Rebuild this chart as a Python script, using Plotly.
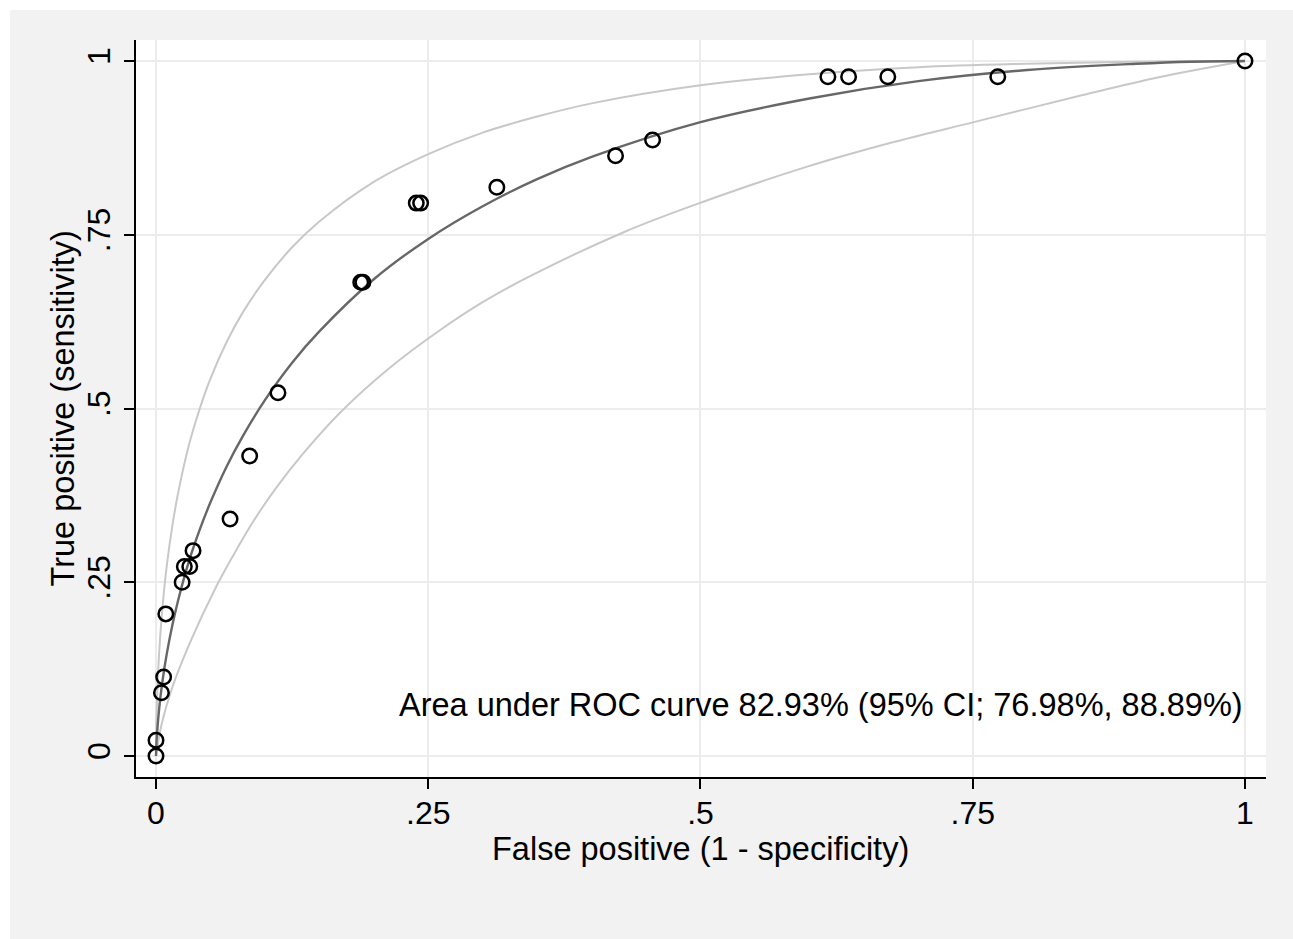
import plotly.graph_objects as go

# Observed operating points (false positive rate, true positive rate)
obs_fpr = [0.0, 0.0, 0.005, 0.007, 0.009, 0.024, 0.026, 0.031, 0.034, 0.068,
           0.086, 0.112, 0.188, 0.190, 0.239, 0.243, 0.313, 0.422, 0.456,
           0.617, 0.636, 0.672, 0.773, 1.0]
obs_tpr = [0.0, 0.0227, 0.0909, 0.1136, 0.2045, 0.25, 0.2727, 0.2727, 0.2955,
           0.3409, 0.4318, 0.5227, 0.6818, 0.6818, 0.7955, 0.7955, 0.8182,
           0.8636, 0.8864, 0.9773, 0.9773, 0.9773, 0.9773, 1.0]

# Fitted ROC curve and its upper confidence curve
curve_fpr = [0, 0.0005, 0.001, 0.002, 0.004, 0.007, 0.01, 0.015, 0.02, 0.03,
             0.04, 0.05, 0.065, 0.08, 0.1, 0.125, 0.15, 0.2, 0.25, 0.3, 0.35,
             0.4, 0.5, 0.6, 0.7, 0.8, 0.9, 0.95, 1]
fit_tpr = [0, 0.021, 0.033, 0.053, 0.084, 0.119, 0.148, 0.188, 0.222, 0.279,
           0.325, 0.365, 0.417, 0.461, 0.512, 0.566, 0.611, 0.686, 0.744, 0.791,
           0.830, 0.862, 0.912, 0.946, 0.971, 0.987, 0.996, 0.999, 1]
up_tpr = [0, 0.056, 0.083, 0.122, 0.175, 0.232, 0.275, 0.331, 0.376, 0.446,
          0.499, 0.543, 0.596, 0.639, 0.685, 0.732, 0.769, 0.826, 0.866, 0.897,
          0.920, 0.939, 0.965, 0.981, 0.991, 0.996, 0.999, 1.0, 1]

# Lower confidence curve
lo_fpr = [0, 0.0052, 0.0144, 0.0312, 0.0557, 0.07, 0.0891, 0.11, 0.135, 0.169,
          0.215, 0.261, 0.30, 0.343, 0.430, 0.500, 0.598, 0.674, 0.751, 0.851,
          0.922, 1]
lo_tpr = [0, 0.046, 0.096, 0.163, 0.245, 0.286, 0.337, 0.385, 0.435, 0.494,
          0.559, 0.613, 0.653, 0.690, 0.754, 0.796, 0.848, 0.882, 0.912, 0.951,
          0.977, 1]

tick_vals = [0, 0.25, 0.5, 0.75, 1]
tick_text = ["0", ".25", ".5", ".75", "1"]

x_title = "False positive (1 - specificity)"
y_title = "True positive (sensitivity)"
auc_text = "Area under ROC curve 82.93% (95% CI; 76.98%, 88.89%)"

FONT = "Liberation Sans, Arial, Helvetica, sans-serif"
PLOT_W, PLOT_H = 1130, 737
L, T = 136, 40

fig = go.Figure()

ci_line = dict(color="#c8c8c8", width=2, shape="spline", smoothing=1)
fig.add_trace(go.Scatter(x=curve_fpr, y=up_tpr, mode="lines", line=ci_line,
                         hoverinfo="skip", showlegend=False))
fig.add_trace(go.Scatter(x=lo_fpr, y=lo_tpr, mode="lines", line=ci_line,
                         hoverinfo="skip", showlegend=False))
fig.add_trace(go.Scatter(x=curve_fpr, y=fit_tpr, mode="lines",
                         line=dict(color="#676767", width=2.4, shape="spline", smoothing=1),
                         hoverinfo="skip", showlegend=False))
fig.add_trace(go.Scatter(x=obs_fpr, y=obs_tpr, mode="markers",
                         marker=dict(symbol="circle-open", size=14.5, color="black",
                                     line=dict(color="black", width=2.5)),
                         showlegend=False))

fig.add_annotation(x=1.0, y=0.073, xref="x", yref="y", text=auc_text,
                   showarrow=False, xanchor="right", yanchor="middle",
                   font=dict(family=FONT, size=32.5, color="black"))

# axis titles
fig.add_annotation(x=(700.5 - L) / PLOT_W, y=(T + PLOT_H - 849) / PLOT_H,
                   xref="paper", yref="paper", text=x_title, showarrow=False,
                   xanchor="center", yanchor="middle",
                   font=dict(family=FONT, size=32.5, color="black"))
fig.add_annotation(x=(62 - L) / PLOT_W, y=0.5, xref="paper", yref="paper",
                   text=y_title, showarrow=False, textangle=-90,
                   xanchor="center", yanchor="middle",
                   font=dict(family=FONT, size=32.5, color="black"))

# white outer border strips (top and left)
fig.add_shape(type="rect", xref="paper", yref="paper", x0=-0.2, x1=1.1,
              y0=1 + 30 / PLOT_H, y1=1.2, fillcolor="white", line_width=0, layer="below")
fig.add_shape(type="rect", xref="paper", yref="paper", x0=-0.2, x1=(10 - L) / PLOT_W,
              y0=-0.3, y1=1.2, fillcolor="white", line_width=0, layer="below")

axis_common = dict(
    tickvals=tick_vals, ticktext=tick_text,
    showgrid=True, gridcolor="#ececec", gridwidth=2,
    zeroline=False, showline=True, linecolor="black", linewidth=2,
    ticks="outside", ticklen=10, tickwidth=1.5, tickcolor="black",
    tickfont=dict(family=FONT, size=32, color="black"),
)

fig.update_xaxes(range=[-0.01837, 1.0193], mirror=False,
                 ticklabelstandoff=-3, **axis_common)
fig.update_yaxes(range=[-0.0302, 1.0302], mirror=False, tickangle=-90,
                 ticklabelstandoff=1, **axis_common)

fig.update_layout(
    width=1293, height=939,
    margin=dict(l=L, r=27, t=T, b=162, pad=0),
    paper_bgcolor="#f2f2f2", plot_bgcolor="white",
    font=dict(family=FONT, color="black"),
)

fig.write_html("out.html")
